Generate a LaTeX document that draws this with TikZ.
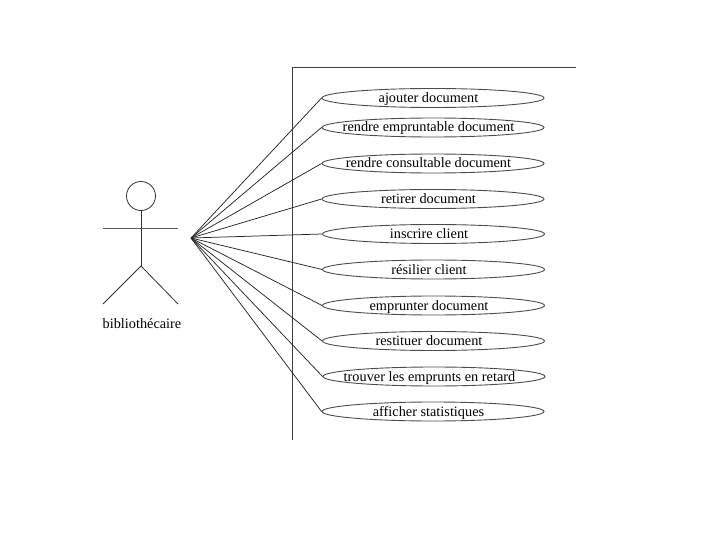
\documentclass[tikz,border=0pt]{standalone}
\usepackage{fontspec}
\setmainfont{Liberation Serif}
\usetikzlibrary{shapes.geometric}
\tikzset{
  usecase/.style={draw=black!70, ellipse, inner xsep=-45pt, inner ysep=0pt, text height=9.5pt, text depth=0.5pt, minimum width=222pt, minimum height=19pt, line width=.9pt, font=\fontsize{14.3}{16}\selectfont, text=black, execute at end node={\hspace*{9pt}}},
  link/.style={draw=black!85, line width=.75pt},
  actorline/.style={draw=black!80, line width=.8pt},
  frameline/.style={draw=black!75, line width=.9pt}
}
\begin{document}
\begin{tikzpicture}[x=1pt,y=-1pt]
\useasboundingbox (0,0) rectangle (720,540);
\coordinate (tl) at (292.5,67.5);
\coordinate (tr) at (576,67.5);
\coordinate (bl) at (292.5,440);
\draw[frameline] (tr) -- (tl) -- (bl);
\node[usecase] (u1) at (433,98) {ajouter document};
\node[usecase] (u2) at (433,127.5) {rendre empruntable document};
\node[usecase] (u3) at (433,163.5) {rendre consultable document};
\node[usecase] (u4) at (433,199) {retirer document};
\node[usecase] (u5) at (433.5,234) {inscrire client};
\node[usecase] (u6) at (433.5,269.5) {résilier client};
\node[usecase] (u7) at (433.5,305.5) {emprunter document};
\node[usecase] (u8) at (433.5,341) {restituer document};
\node[usecase] (u9) at (434,376.5) {trouver les emprunts en retard};
\node[usecase] (u10) at (433,411.5) {afficher statistiques};
\coordinate (hub) at (191,238);
\foreach \i in {1,...,10} \draw[link] (hub) -- (u\i.west);
\node[draw=black!80, circle, inner sep=0pt, minimum size=29pt, line width=.8pt] (head) at (141,196) {};
\coordinate (neck) at (141,229);
\coordinate (armL) at (103,229);
\coordinate (armR) at (178,229);
\coordinate (hip) at (141,266);
\coordinate (footL) at (103,304);
\coordinate (footR) at (178,304);
\draw[actorline] (head.south) -- (hip);
\draw[actorline, line width=1pt, draw=black!65] (armL) -- (armR);
\draw[actorline] (footL) -- (hip) -- (footR);
\node[font=\fontsize{14.3}{16}\selectfont, inner sep=0pt] (lbl) at (142,324) {bibliothécaire};
\end{tikzpicture}
\end{document}
